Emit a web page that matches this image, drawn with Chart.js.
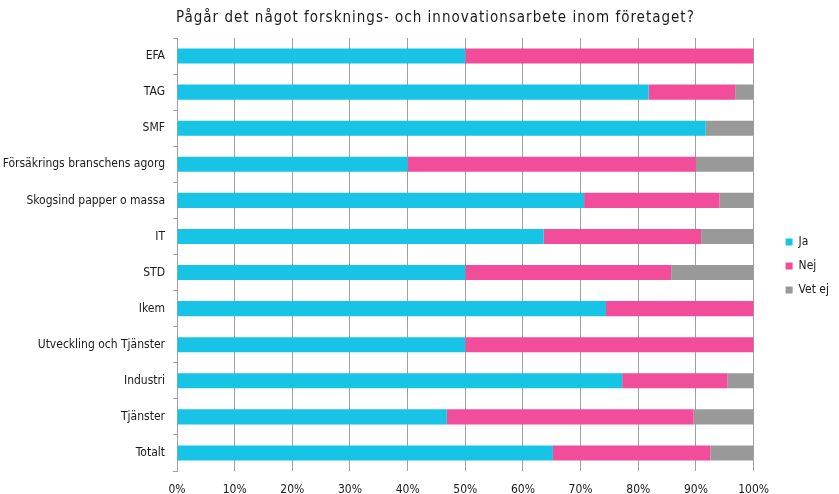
<!DOCTYPE html>
<html>
<head>
<meta charset="utf-8">
<script src="https://cdn.jsdelivr.net/npm/chart.js@4/dist/chart.umd.min.js"></script>
<style>
  html, body { margin: 0; padding: 0; background: #fff; }
  #wrap { width: 839px; height: 494px; position: relative; }
</style>
</head>
<body>
<div id="wrap"><canvas id="c"></canvas></div>
<script>
const titleText = "Pågår det något forsknings- och innovationsarbete inom företaget?";
const categories = ["EFA", "TAG", "SMF", "Försäkrings branschens agorg", "Skogsind papper o massa", "IT", "STD", "Ikem", "Utveckling och Tjänster", "Industri", "Tjänster", "Totalt"];
const seriesNames = ["Ja", "Nej", "Vet ej"];
const ja    = [50, 81.8, 91.7, 40, 70.6, 63.6, 50, 74.4, 50, 77.2, 46.8, 65.2];
const nej   = [50, 15.0, 0, 50, 23.5, 27.3, 35.7, 25.6, 50, 18.3, 42.8, 27.3];
const vetej = [0, 3.2, 8.3, 10, 5.9, 9.1, 14.3, 0, 0, 4.5, 10.4, 7.5];
const xTicks = [0, 10, 20, 30, 40, 50, 60, 70, 80, 90, 100];

const FONT = "'Liberation Sans Narrow', 'DejaVu Sans Condensed', sans-serif";
const colors = ["#17c4e6", "#f24d9b", "#999999"];

const titlePlugin = {
  id: 'leftTitle',
  afterDraw(chart) {
    const ctx = chart.ctx;
    ctx.save();
    ctx.font = "15px " + FONT;
    try { ctx.letterSpacing = "1px"; } catch (e) {}
    ctx.fillStyle = "#1a1a1a";
    ctx.textBaseline = "middle";
    ctx.textAlign = "left";
    ctx.fillText(titleText, chart.chartArea.left - 1, 18);
    ctx.restore();
  }
};

new Chart(document.getElementById('c'), {
  type: 'bar',
  data: {
    labels: categories,
    datasets: [
      { label: seriesNames[0], data: ja, backgroundColor: colors[0] },
      { label: seriesNames[1], data: nej, backgroundColor: colors[1] },
      { label: seriesNames[2], data: vetej, backgroundColor: colors[2] }
    ]
  },
  options: {
    indexAxis: 'y',
    responsive: true,
    maintainAspectRatio: false,
    animation: false,
    layout: { padding: { top: 38, left: 0, right: 0, bottom: 0 } },
    datasets: { bar: { categoryPercentage: 1, barPercentage: 0.42, borderWidth: 0 } },
    scales: {
      x: {
        stacked: true,
        min: 0, max: 100,
        afterBuildTicks: (s) => { s.ticks = xTicks.map(v => ({ value: v })); },
        grid: { color: "#a0a0a0", lineWidth: 1, drawTicks: false },
        border: { display: false },
        ticks: { callback: (v) => v + "%", font: { family: FONT, size: 12 }, color: "#1a1a1a", padding: 12, maxRotation: 0 },
        afterFit: (s) => { s.height = 23; }
      },
      y: {
        stacked: true,
        grid: { offset: true, drawOnChartArea: false, drawTicks: true, tickLength: 4, color: "#a0a0a0" },
        border: { display: true, color: "#a0a0a0" },
        ticks: { font: { family: FONT, size: 12 }, color: "#1a1a1a", padding: 8 },
        afterFit: (s) => { s.width = 177; }
      },
      y2: {
        type: 'linear',
        position: 'right',
        display: true,
        grid: { display: false },
        border: { display: false },
        ticks: { display: false },
        afterFit: (s) => { s.width = 20; }
      }
    },
    plugins: {
      legend: {
        position: 'right',
        labels: { boxWidth: 7, boxHeight: 7, padding: 12, font: { family: FONT, size: 12 }, color: "#1a1a1a" }
      },
      tooltip: { enabled: false },
      title: { display: false }
    }
  },
  plugins: [titlePlugin]
});
</script>
</body>
</html>
